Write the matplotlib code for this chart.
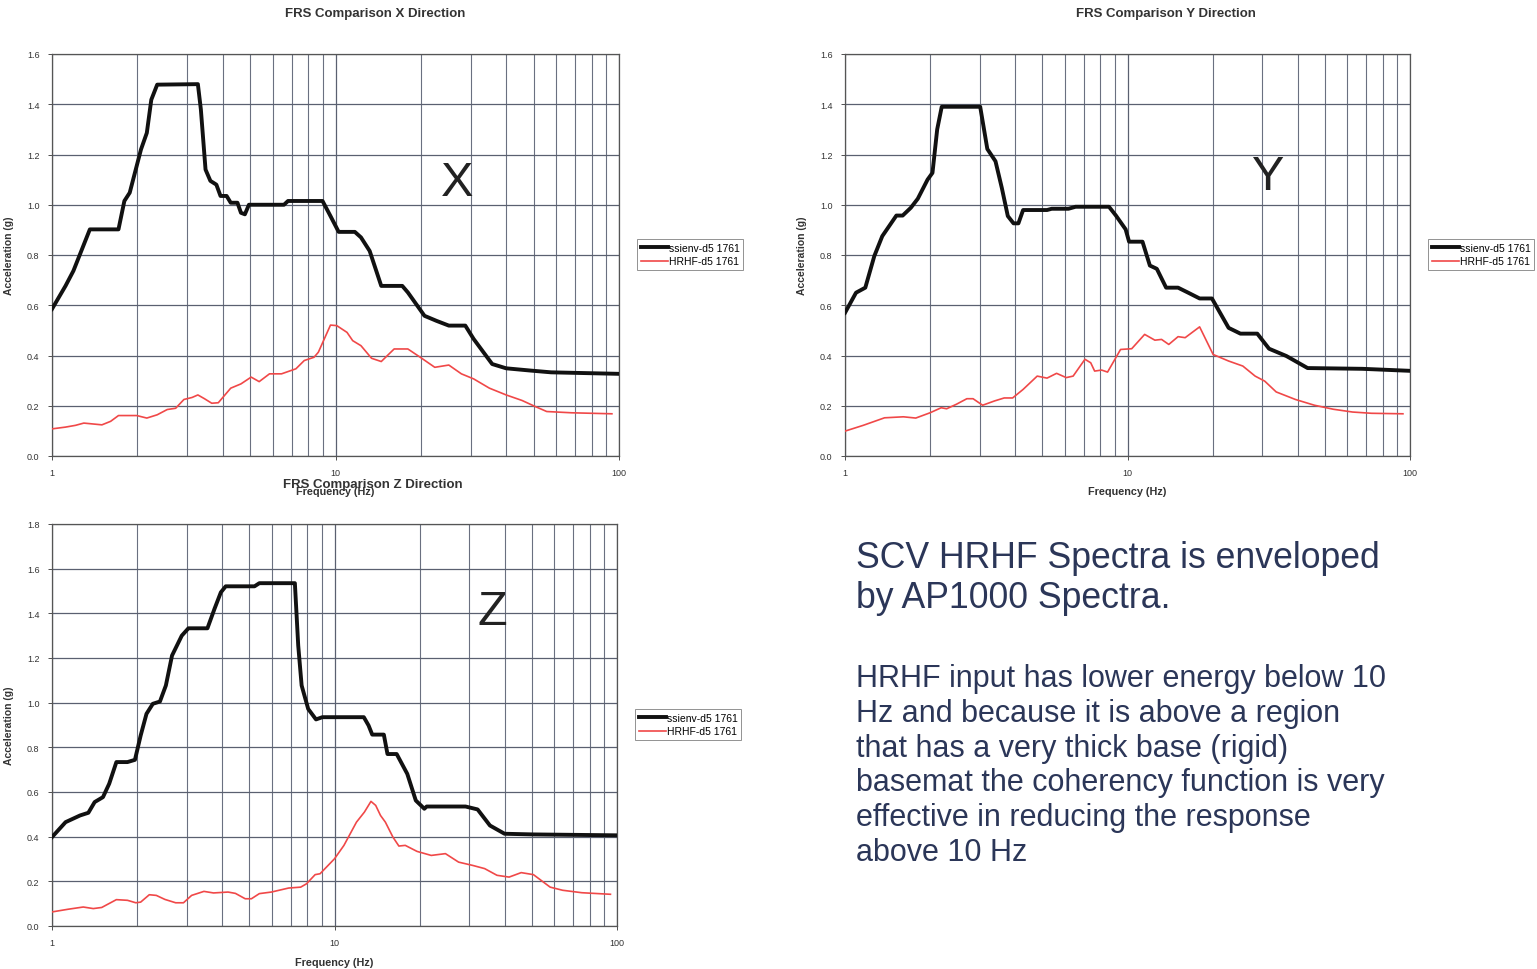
import numpy as np
import matplotlib
matplotlib.use("Agg")
import matplotlib.pyplot as plt
from matplotlib.ticker import FixedLocator, FormatStrFormatter, NullFormatter

# floor response spectra, frequency (Hz) vs acceleration (g)
x_env_f = [1.0, 1.116, 1.19, 1.36, 1.716, 1.80, 1.88, 2.06, 2.16, 2.24, 2.35, 3.27, 3.35, 3.48,
           3.62, 3.80, 3.93, 4.13, 4.27, 4.51, 4.64, 4.79, 4.95, 6.58, 6.80, 9.0, 9.6, 10.26,
           11.7, 12.3, 13.2, 14.5, 17.2, 18.0, 20.6, 22.7, 25.1, 28.7, 30.7, 35.7, 40.0, 48.8,
           57.6, 100.0]
x_env_a = [0.585, 0.677, 0.737, 0.902, 0.902, 1.015, 1.048, 1.22, 1.286, 1.418, 1.478, 1.48, 1.38,
           1.14, 1.095, 1.08, 1.035, 1.035, 1.008, 1.008, 0.968, 0.962, 1.0, 1.0, 1.015, 1.015,
           0.955, 0.892, 0.892, 0.87, 0.816, 0.677, 0.677, 0.651, 0.558, 0.538, 0.519, 0.519,
           0.466, 0.366, 0.349, 0.340, 0.333, 0.327]
x_hrhf_f = [1.0, 1.116, 1.21, 1.295, 1.50, 1.61, 1.716, 1.99, 2.16, 2.35, 2.55, 2.73, 2.92, 3.12,
            3.27, 3.45, 3.66, 3.86, 4.27, 4.64, 5.04, 5.38, 5.85, 6.45, 7.25, 7.76, 8.4, 8.7,
            9.6, 10.1, 10.98, 11.5, 12.3, 13.4, 14.5, 16.1, 18.0, 19.9, 22.4, 25.1, 27.8, 30.7,
            34.9, 40.0, 45.5, 50.4, 55.6, 68.0, 94.4]
x_hrhf_a = [0.108, 0.115, 0.122, 0.131, 0.124, 0.138, 0.161, 0.161, 0.151, 0.164, 0.185, 0.19,
            0.225, 0.233, 0.243, 0.228, 0.21, 0.212, 0.27, 0.287, 0.314, 0.296, 0.327, 0.327,
            0.347, 0.38, 0.393, 0.413, 0.521, 0.519, 0.492, 0.459, 0.439, 0.389, 0.376, 0.426,
            0.426, 0.393, 0.353, 0.362, 0.327, 0.307, 0.27, 0.243, 0.221, 0.198, 0.177, 0.172,
            0.168]

y_env_f = [1.0, 1.094, 1.18, 1.27, 1.355, 1.52, 1.60, 1.71, 1.81, 1.96, 2.04, 2.12, 2.20, 3.01,
           3.19, 3.41, 3.59, 3.77, 3.95, 4.11, 4.27, 5.19, 5.39, 6.18, 6.55, 8.6, 9.1, 9.85,
           10.13, 11.3, 12.0, 12.7, 13.7, 15.1, 16.4, 18.0, 19.9, 22.8, 25.1, 28.8, 31.7, 36.5,
           43.4, 67.8, 100.0]
y_env_a = [0.570, 0.650, 0.670, 0.796, 0.875, 0.957, 0.957, 0.988, 1.024, 1.10, 1.127, 1.30,
           1.39, 1.39, 1.222, 1.173, 1.067, 0.955, 0.926, 0.926, 0.979, 0.979, 0.984, 0.984,
           0.992, 0.992, 0.957, 0.902, 0.853, 0.853, 0.758, 0.745, 0.670, 0.670, 0.650, 0.627,
           0.627, 0.510, 0.487, 0.487, 0.427, 0.398, 0.350, 0.347, 0.339]
y_hrhf_f = [1.0, 1.16, 1.38, 1.61, 1.78, 2.0, 2.19, 2.29, 2.48, 2.70, 2.84, 3.07, 3.38, 3.66,
            3.92, 4.27, 4.79, 5.19, 5.61, 6.07, 6.42, 6.8, 7.07, 7.41, 7.65, 8.1, 8.5, 9.45,
            10.35, 11.5, 12.5, 13.2, 14.0, 15.1, 16.0, 18.0, 20.1, 22.8, 25.6, 28.3, 30.6,
            33.6, 39.3, 45.9, 53.6, 62.6, 73.1, 94.4]
y_hrhf_a = [0.099, 0.122, 0.152, 0.156, 0.151, 0.172, 0.192, 0.188, 0.206, 0.228, 0.228, 0.202,
            0.219, 0.231, 0.231, 0.265, 0.318, 0.310, 0.329, 0.312, 0.318, 0.358, 0.385, 0.371,
            0.338, 0.342, 0.334, 0.424, 0.427, 0.484, 0.461, 0.464, 0.444, 0.475, 0.471, 0.514,
            0.404, 0.378, 0.358, 0.318, 0.298, 0.255, 0.225, 0.202, 0.186, 0.175, 0.170, 0.168]

z_env_f = [1.0, 1.117, 1.257, 1.345, 1.416, 1.515, 1.594, 1.69, 1.85, 1.966, 2.06, 2.16, 2.275,
           2.41, 2.53, 2.66, 2.88, 3.04, 3.55, 3.76, 3.96, 4.12, 5.21, 5.42, 7.24, 7.44, 7.65,
           8.07, 8.6, 9.06, 12.7, 13.2, 13.6, 14.95, 15.4, 16.6, 18.1, 19.4, 20.8, 21.2, 29.1,
           32.1, 35.5, 40.0, 50.6, 100.0]
z_env_a = [0.398, 0.465, 0.495, 0.507, 0.555, 0.577, 0.637, 0.734, 0.734, 0.744, 0.853, 0.950,
           0.995, 1.005, 1.077, 1.211, 1.300, 1.333, 1.333, 1.420, 1.494, 1.521, 1.521, 1.535,
           1.535, 1.256, 1.077, 0.972, 0.925, 0.935, 0.935, 0.898, 0.857, 0.857, 0.770, 0.770,
           0.681, 0.562, 0.525, 0.535, 0.535, 0.522, 0.450, 0.413, 0.410, 0.406]
z_hrhf_f = [1.0, 1.14, 1.29, 1.40, 1.50, 1.69, 1.85, 1.98, 2.06, 2.21, 2.34, 2.51, 2.74, 2.92,
            3.12, 3.45, 3.73, 4.20, 4.46, 4.83, 5.08, 5.42, 5.98, 6.88, 7.59, 7.96, 8.54, 8.89,
            10.0, 10.8, 11.96, 12.76, 13.46, 13.99, 14.55, 15.14, 16.1, 16.9, 17.8, 19.6, 22.0,
            24.7, 27.5, 30.9, 34.0, 37.6, 41.5, 45.8, 50.6, 58.0, 64.2, 75.1, 94.8]
z_hrhf_a = [0.063, 0.075, 0.085, 0.078, 0.083, 0.118, 0.115, 0.104, 0.107, 0.140, 0.137, 0.119,
            0.104, 0.104, 0.137, 0.155, 0.148, 0.152, 0.146, 0.122, 0.122, 0.145, 0.152, 0.170,
            0.174, 0.189, 0.230, 0.234, 0.301, 0.361, 0.465, 0.510, 0.558, 0.540, 0.495, 0.465,
            0.398, 0.358, 0.361, 0.334, 0.316, 0.324, 0.286, 0.271, 0.257, 0.227, 0.219, 0.239,
            0.230, 0.174, 0.160, 0.149, 0.142]

series_names = ["ssienv-d5 1761", "HRHF-d5 1761"]

note_head = "SCV HRHF Spectra is enveloped\nby AP1000 Spectra."
note_body = ("HRHF input has lower energy below 10\nHz and because it is above a region\n"
             "that has a very thick base (rigid)\nbasemat the coherency function is very\n"
             "effective in reducing the response\nabove 10 Hz")

plt.rcParams['font.family'] = ['Liberation Sans', 'DejaVu Sans']

fig = plt.figure(figsize=(15.37, 9.70), dpi=100)
W, H = 1537.0, 970.0


def px(x, y):
    # pixel position (from top-left) -> figure fraction
    return x / W, 1 - y / H


def panel(rect_px, env_f, env_a, hr_f, hr_a, ymax, letter, letter_xy, title, title_xy,
          xlabel_y, legend_xy):
    l, t, r, b = rect_px
    ax = fig.add_axes([l / W, 1 - b / H, (r - l) / W, (b - t) / H])
    ax.plot(env_f, env_a, color='#111111', lw=2.8, label=series_names[0], zorder=3)
    ax.plot(hr_f, hr_a, color='#f04848', lw=1.2, label=series_names[1], zorder=3)
    ax.set_xscale('log')
    ax.set_xlim(1, 100)
    ax.set_ylim(0, ymax)
    ax.set_yticks(np.arange(0, ymax + 0.01, 0.2))
    ax.yaxis.set_major_formatter(FormatStrFormatter('%.1f'))
    ax.xaxis.set_major_locator(FixedLocator([1, 10, 100]))
    ax.xaxis.set_major_formatter(FormatStrFormatter('%g'))
    minors = [m * d for d in (1, 10) for m in range(2, 10)]
    ax.xaxis.set_minor_locator(FixedLocator(minors))
    ax.xaxis.set_minor_formatter(NullFormatter())
    ax.grid(True, which='major', axis='both', color='#5a6070', lw=0.9)
    ax.grid(True, which='minor', axis='x', color='#6a7080', lw=0.8)
    ax.tick_params(labelsize=6.5, length=3, width=0.6, colors='#333333', pad=6)
    ax.tick_params(which='minor', length=0)
    for s in ax.spines.values():
        s.set_color('#555555')
        s.set_linewidth(0.9)
    ax.set_ylabel('Acceleration (g)', fontsize=7.5, fontweight='bold', color='#333333',
                  labelpad=9)
    fig.text(*px(*letter_xy), letter, fontsize=35, color='#222222',
             ha='center', va='center')
    fig.text(*px(*title_xy), title, fontsize=9.5, fontweight='bold',
             color='#333333', ha='center', va='center')
    fig.text(*px((l + r) / 2, xlabel_y), 'Frequency (Hz)', fontsize=7.8,
             fontweight='bold', color='#333333', ha='center', va='center')
    leg = fig.legend(handles=ax.get_lines(), loc='upper left',
                     bbox_to_anchor=px(*legend_xy),
                     fontsize=7.5, frameon=True, fancybox=False, handlelength=2.6,
                     handletextpad=0.1, borderpad=0.35, labelspacing=0.35, borderaxespad=0)
    leg.get_frame().set_edgecolor('#777777')
    leg.get_frame().set_linewidth(0.7)
    return ax


panel((52, 55, 619, 457), x_env_f, x_env_a, x_hrhf_f, x_hrhf_a, 1.6,
      'X', (457, 184), 'FRS Comparison X Direction', (375, 14), 492, (637, 240))
panel((845, 55, 1410, 457), y_env_f, y_env_a, y_hrhf_f, y_hrhf_a, 1.6,
      'Y', (1268, 178), 'FRS Comparison Y Direction', (1166, 14), 492, (1428, 240))
panel((52, 525, 617, 927), z_env_f, z_env_a, z_hrhf_f, z_hrhf_a, 1.8,
      'Z', (492, 613), 'FRS Comparison Z Direction', (373, 485), 963, (635, 710))

fig.text(*px(856, 541), note_head, fontsize=25.7, color='#2b3658', ha='left', va='top',
         linespacing=1.2)
fig.text(*px(856, 664), note_body, fontsize=22, color='#2b3658', ha='left', va='top',
         linespacing=1.21)

fig.savefig('out.png', dpi=100, facecolor='white')
